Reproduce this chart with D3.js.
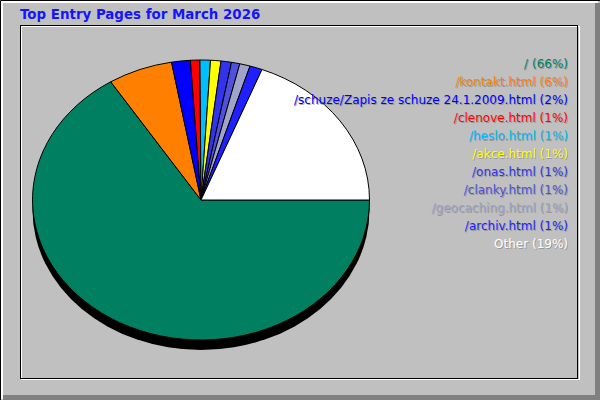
<!DOCTYPE html>
<html><head><meta charset="utf-8">
<script src="https://cdn.jsdelivr.net/npm/d3@7"></script>
<style>html,body{margin:0;padding:0;background:#c0c0c0}svg{display:block}</style>
</head><body>
<script>
const title = "Top Entry Pages for March 2026";
const pages = ["/", "/kontakt.html", "/schuze/Zapis ze schuze 24.1.2009.html", "/clenove.html", "/heslo.html", "/akce.html", "/onas.html", "/clanky.html", "/geocaching.html", "/archiv.html", "Other"];
const shares = [66.0, 6.2, 1.8, 0.9, 1.0, 1.0, 1.0, 0.8, 1.0, 1.2, 19.1];
const colors = ["#008060", "#ff8000", "#0000ff", "#ff0000", "#00bfff", "#ffff00", "#3333ee", "#5050dc", "#a0a4c8", "#1f1fff", "#ffffff"];

const W = 600, H = 400;
const svg = d3.select("body").append("svg").attr("width", W).attr("height", H);

// outer bevel frame
svg.append("rect").attr("x",0).attr("y",0).attr("width",W).attr("height",H).attr("fill","#c0c0c0");
svg.append("rect").attr("x",595).attr("y",3).attr("width",5).attr("height",397).attr("fill","#808080");
svg.append("rect").attr("x",3).attr("y",395).attr("width",597).attr("height",5).attr("fill","#808080");
svg.append("path").attr("d","M1.5,399 L1.5,1.5 L598,1.5").attr("fill","none").attr("stroke","#ffffff").attr("stroke-width",3);
svg.append("path").attr("d","M0.5,400 L0.5,0.5 L600,0.5").attr("fill","none").attr("stroke","#000").attr("stroke-width",1);

// inner sunken frame
svg.append("rect").attr("x",21.5).attr("y",26.5).attr("width",558).attr("height",353).attr("fill","none").attr("stroke","#fff");
svg.append("rect").attr("x",20.5).attr("y",25.5).attr("width",557).attr("height",353).attr("fill","none").attr("stroke","#000");

svg.append("text").attr("x",20).attr("y",19).text(title)
  .attr("font-family","DejaVu Sans").attr("font-weight","bold").attr("font-size",13.4).attr("fill","#1414ff");

// pie
const cx = 201, cy = 200, rx = 168.5, ry = 140, depth = 10;
const total = d3.sum(shares);
const pie = d3.pie().sort(null).startAngle(Math.PI/2).endAngle(Math.PI/2 + 2*Math.PI);
const arcs = pie(shares);
const arc = d3.arc().innerRadius(0).outerRadius(rx);

svg.append("ellipse").attr("cx",cx).attr("cy",cy+depth).attr("rx",rx).attr("ry",ry).attr("fill","#000");
const g = svg.append("g").attr("transform",`translate(${cx},${cy}) scale(1,${ry/rx})`);
g.selectAll("path").data(arcs).join("path")
  .attr("d", arc)
  .attr("fill", (d,i) => colors[i])
  .attr("stroke", "#000").attr("stroke-width",1)
  .attr("vector-effect","non-scaling-stroke")
  .attr("stroke-linejoin","round");

// legend
const lg = svg.append("g");
const legendX = 568, legendY0 = 68, legendStep = 18;
pages.forEach((p,i) => {
  const label = `${p} (${Math.round(shares[i]/total*100)}%)`;
  const y = legendY0 + i*legendStep;
  lg.append("text").attr("x",legendX+1).attr("y",y+1).attr("text-anchor","end")
    .attr("font-family","DejaVu Sans").attr("font-size",12).attr("fill","#808080").attr("opacity",0.6).text(label);
  lg.append("text").attr("x",legendX).attr("y",y).attr("text-anchor","end")
    .attr("font-family","DejaVu Sans").attr("font-size",12).attr("fill",colors[i]).text(label);
});
</script>
</body></html>
